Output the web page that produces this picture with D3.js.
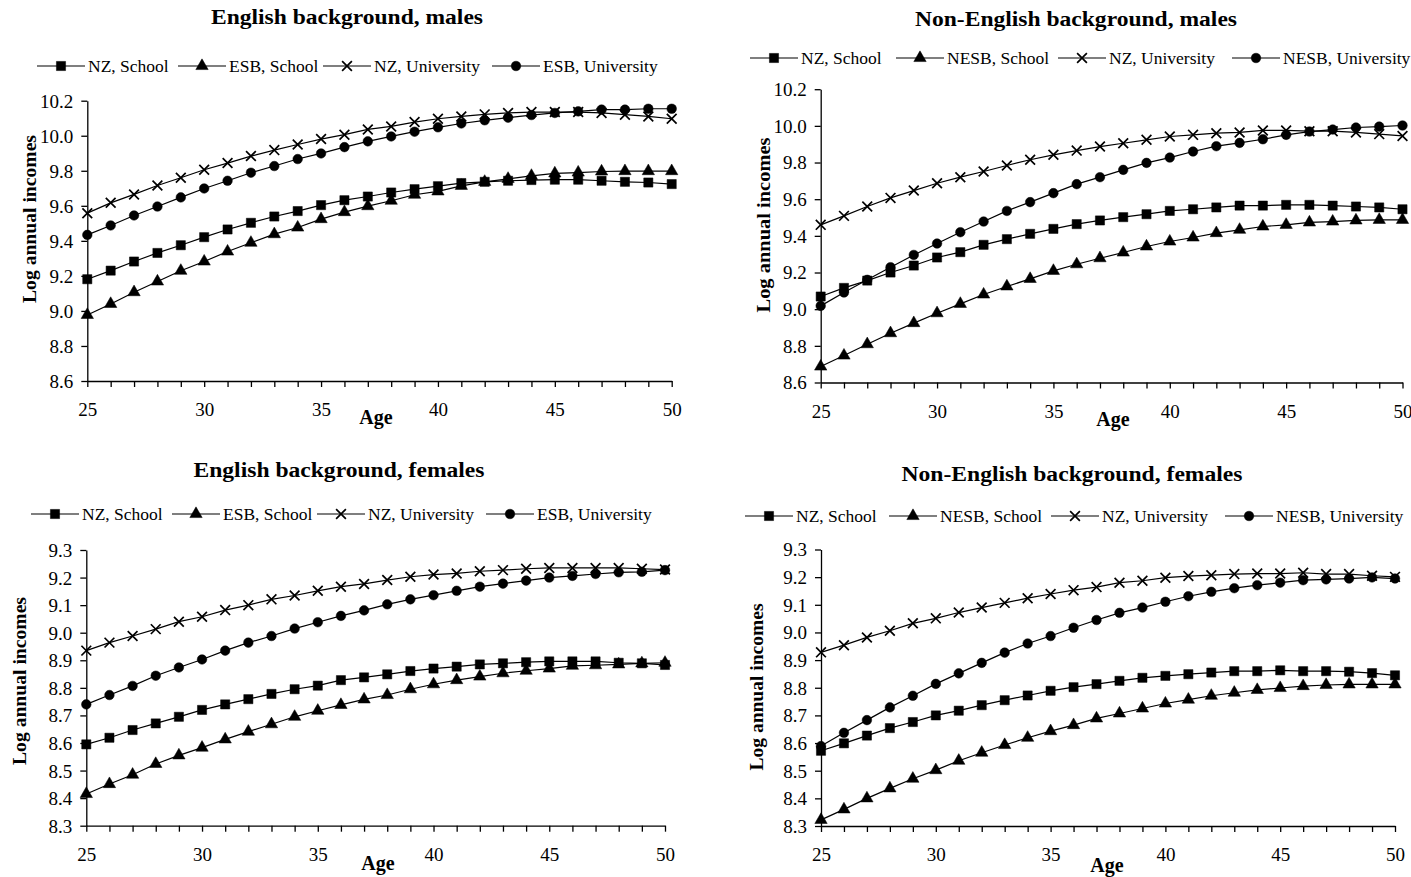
<!DOCTYPE html>
<html>
<head>
<meta charset="utf-8">
<script src="https://cdn.jsdelivr.net/npm/d3@7"></script>
<style>
  body { margin: 0; background: #fff; }
  svg { display: block; }
  text { font-family: "Liberation Serif", "Times New Roman", serif; fill: #000; }
</style>
</head>
<body>
<svg id="chart" width="1411" height="877"></svg>
<script>
// Age on the horizontal axis
const ages = [25, 26, 27, 28, 29, 30, 31, 32, 33, 34, 35, 36, 37, 38, 39, 40,
              41, 42, 43, 44, 45, 46, 47, 48, 49, 50];

// Panel titles and legend names
const titles = [
  "English background, males",
  "Non-English background, males",
  "English background, females",
  "Non-English background, females"
];
const namesESB  = ["NZ, School", "ESB, School", "NZ, University", "ESB, University"];
const namesNESB = ["NZ, School", "NESB, School", "NZ, University", "NESB, University"];

// Tick labels of the income axes
const ticksMales   = [8.6, 8.8, 9.0, 9.2, 9.4, 9.6, 9.8, 10.0, 10.2];
const ticksFemales = [8.3, 8.4, 8.5, 8.6, 8.7, 8.8, 8.9, 9.0, 9.1, 9.2, 9.3];

// English background, males
const esbMaleNZSchool  = [9.181, 9.230, 9.282, 9.331, 9.375, 9.421, 9.465, 9.503, 9.539, 9.570, 9.604, 9.632, 9.653,
                          9.676, 9.695, 9.712, 9.730, 9.737, 9.743, 9.747, 9.749, 9.749, 9.743, 9.737, 9.733, 9.724];
const esbMaleSchool    = [8.977, 9.040, 9.107, 9.168, 9.229, 9.282, 9.339, 9.389, 9.438, 9.476, 9.524, 9.564, 9.598,
                          9.629, 9.663, 9.682, 9.714, 9.737, 9.754, 9.771, 9.785, 9.790, 9.796, 9.798, 9.798, 9.798];
const esbMaleNZUni     = [9.558, 9.617, 9.665, 9.716, 9.760, 9.806, 9.844, 9.884, 9.918, 9.950, 9.981, 10.006, 10.036,
                          10.053, 10.078, 10.097, 10.110, 10.122, 10.130, 10.135, 10.135, 10.135, 10.130, 10.120, 10.110, 10.097];
const esbMaleUni       = [9.434, 9.488, 9.545, 9.596, 9.648, 9.699, 9.743, 9.789, 9.827, 9.867, 9.899, 9.935, 9.968,
                          9.996, 10.023, 10.048, 10.070, 10.088, 10.103, 10.118, 10.130, 10.139, 10.149, 10.149, 10.154, 10.154];

// Non-English background, males
const nesbMaleNZSchool = [9.069, 9.116, 9.156, 9.200, 9.238, 9.282, 9.311, 9.351, 9.382, 9.411, 9.438, 9.464, 9.484,
                          9.502, 9.518, 9.536, 9.545, 9.555, 9.565, 9.565, 9.569, 9.569, 9.565, 9.560, 9.555, 9.545];
const nesbMaleSchool   = [8.687, 8.747, 8.809, 8.869, 8.924, 8.978, 9.029, 9.080, 9.124, 9.165, 9.209, 9.245, 9.278,
                          9.309, 9.342, 9.369, 9.391, 9.415, 9.433, 9.451, 9.460, 9.473, 9.478, 9.484, 9.487, 9.487];
const nesbMaleNZUni    = [9.460, 9.509, 9.560, 9.607, 9.647, 9.687, 9.720, 9.751, 9.784, 9.815, 9.842, 9.865, 9.887,
                          9.905, 9.924, 9.942, 9.951, 9.960, 9.964, 9.975, 9.975, 9.971, 9.971, 9.964, 9.955, 9.945];
const nesbMaleUni      = [9.018, 9.091, 9.160, 9.229, 9.296, 9.358, 9.420, 9.478, 9.536, 9.584, 9.633, 9.682, 9.720,
                          9.760, 9.798, 9.827, 9.860, 9.889, 9.907, 9.927, 9.951, 9.969, 9.980, 9.991, 9.996, 10.002];

// English background, females
const esbFemNZSchool   = [8.595, 8.619, 8.647, 8.671, 8.695, 8.720, 8.740, 8.759, 8.778, 8.795, 8.808, 8.828, 8.838,
                          8.849, 8.861, 8.870, 8.877, 8.885, 8.889, 8.893, 8.896, 8.896, 8.896, 8.891, 8.889, 8.883];
const esbFemSchool     = [8.415, 8.451, 8.485, 8.524, 8.555, 8.583, 8.613, 8.641, 8.668, 8.695, 8.717, 8.738, 8.758,
                          8.774, 8.795, 8.813, 8.828, 8.841, 8.853, 8.862, 8.870, 8.880, 8.882, 8.885, 8.889, 8.891];
const esbFemNZUni      = [8.935, 8.964, 8.988, 9.013, 9.040, 9.058, 9.082, 9.100, 9.121, 9.135, 9.152, 9.167, 9.177,
                          9.191, 9.203, 9.211, 9.215, 9.223, 9.227, 9.232, 9.235, 9.235, 9.235, 9.235, 9.232, 9.229];
const esbFemUni        = [8.740, 8.774, 8.807, 8.844, 8.874, 8.903, 8.935, 8.964, 8.988, 9.015, 9.038, 9.061, 9.081,
                          9.103, 9.121, 9.136, 9.152, 9.167, 9.178, 9.189, 9.200, 9.206, 9.213, 9.219, 9.221, 9.227];

// Non-English background, females
const nesbFemNZSchool  = [8.572, 8.599, 8.627, 8.654, 8.676, 8.700, 8.717, 8.737, 8.755, 8.772, 8.789, 8.802, 8.813,
                          8.825, 8.836, 8.843, 8.849, 8.855, 8.860, 8.860, 8.863, 8.860, 8.860, 8.858, 8.853, 8.845];
const nesbFemSchool    = [8.322, 8.360, 8.400, 8.436, 8.471, 8.502, 8.536, 8.565, 8.593, 8.619, 8.643, 8.665, 8.689,
                          8.707, 8.725, 8.743, 8.757, 8.771, 8.782, 8.792, 8.799, 8.806, 8.810, 8.812, 8.812, 8.812];
const nesbFemNZUni     = [8.928, 8.954, 8.982, 9.006, 9.033, 9.051, 9.072, 9.090, 9.107, 9.124, 9.139, 9.153, 9.164,
                          9.180, 9.187, 9.198, 9.204, 9.207, 9.211, 9.213, 9.213, 9.216, 9.211, 9.211, 9.205, 9.201];
const nesbFemUni       = [8.589, 8.637, 8.683, 8.729, 8.771, 8.814, 8.852, 8.890, 8.927, 8.960, 8.987, 9.017, 9.045,
                          9.071, 9.090, 9.111, 9.131, 9.147, 9.160, 9.171, 9.180, 9.189, 9.192, 9.195, 9.199, 9.195];

// Marker shape for each of the four series (same order in every panel)
const markerShapes = [d3.symbolSquare, d3.symbolTriangle, d3.symbolTimes, d3.symbolCircle];
const markerSizes  = [84, 66, 64, 72];

// Panel layout: plot box, label anchors, text widths and legend item starts
const panels = [
  { title: titles[0], names: namesESB, series: [esbMaleNZSchool, esbMaleSchool, esbMaleNZUni, esbMaleUni],
    yTicks: ticksMales, left: 87.3, right: 671.7, top: 100.7, bottom: 381,
    titleX: 347, titleY: 24, titleW: 272, legendY: 66, legendX: [37, 178, 323, 492],
    yLabelX: 30, yLabelY: 219, yLabelW: 168, ageX: 376, ageY: 424 },
  { title: titles[1], names: namesNESB, series: [nesbMaleNZSchool, nesbMaleSchool, nesbMaleNZUni, nesbMaleUni],
    yTicks: ticksMales, left: 820.7, right: 1402.5, top: 89.2, bottom: 382.5,
    titleX: 1076, titleY: 26, titleW: 322, legendY: 58, legendX: [750, 896, 1058, 1232],
    yLabelX: 764, yLabelY: 225, yLabelW: 175, ageX: 1113, ageY: 426 },
  { title: titles[2], names: namesESB, series: [esbFemNZSchool, esbFemSchool, esbFemNZUni, esbFemUni],
    yTicks: ticksFemales, left: 86.3, right: 665, top: 550, bottom: 825.7,
    titleX: 339, titleY: 477, titleW: 291, legendY: 514, legendX: [31, 172, 317, 486],
    yLabelX: 20, yLabelY: 681, yLabelW: 168, ageX: 378, ageY: 870 },
  { title: titles[3], names: namesNESB, series: [nesbFemNZSchool, nesbFemSchool, nesbFemNZUni, nesbFemUni],
    yTicks: ticksFemales, left: 821, right: 1395, top: 549.5, bottom: 826,
    titleX: 1072, titleY: 481, titleW: 341, legendY: 516, legendX: [745, 889, 1051, 1225],
    yLabelX: 757, yLabelY: 687, yLabelW: 167, ageX: 1107, ageY: 872 }
];

const svg = d3.select("#chart");

panels.forEach(p => {
  const g = svg.append("g");
  const x = d3.scaleLinear().domain([ages[0], ages[ages.length - 1]]).range([p.left, p.right]);
  const y = d3.scaleLinear().domain([p.yTicks[0], p.yTicks[p.yTicks.length - 1]]).range([p.bottom, p.top]);

  // Title
  g.append("text")
    .attr("x", p.titleX).attr("y", p.titleY)
    .attr("text-anchor", "middle")
    .attr("textLength", p.titleW).attr("lengthAdjust", "spacingAndGlyphs")
    .style("font-size", "20px").style("font-weight", "bold")
    .text(p.title);

  // Legend
  p.names.forEach((name, i) => {
    const lx = p.legendX[i];
    const item = g.append("g").attr("transform", `translate(${lx},${p.legendY})`);
    item.append("line").attr("x1", 0).attr("x2", 48).attr("y1", 0).attr("y2", 0)
      .attr("stroke", "#000").attr("stroke-width", 1.2);
    item.append("path")
      .attr("transform", "translate(24,0)")
      .attr("d", d3.symbol(markerShapes[i], markerSizes[i])())
      .attr("fill", i === 2 ? "none" : "#000")
      .attr("stroke", "#000").attr("stroke-width", i === 2 ? 1.7 : 0.5);
    item.append("text").attr("x", 51).attr("y", 0).attr("dy", "0.33em")
      .style("font-size", "17.5px").text(name);
  });

  // Axes
  const xAxis = d3.axisBottom(x).tickValues(ages).tickSize(6).tickSizeOuter(0)
    .tickFormat(d => d % 5 === 0 ? d : "");
  const gx = g.append("g").attr("transform", `translate(0,${p.bottom})`).call(xAxis);
  gx.selectAll("text").attr("y", 35).attr("dy", 0).style("font-size", "19px");

  const yAxis = d3.axisLeft(y).tickValues(p.yTicks).tickSize(6).tickSizeOuter(0).tickPadding(8)
    .tickFormat(d3.format(".1f"));
  const gy = g.append("g").attr("transform", `translate(${p.left},0)`).call(yAxis);
  gy.selectAll("text").attr("dy", "0.34em").style("font-size", "19px");

  [gx, gy].forEach(a => {
    a.selectAll("path,line").attr("stroke", "#000").attr("stroke-width", 1.3);
    a.selectAll("text").attr("fill", "#000").style("font-family", "'Liberation Serif', serif");
  });

  // Axis titles
  g.append("text")
    .attr("transform", `translate(${p.yLabelX},${p.yLabelY}) rotate(-90)`)
    .attr("text-anchor", "middle").attr("dy", "0.33em")
    .attr("textLength", p.yLabelW).attr("lengthAdjust", "spacingAndGlyphs")
    .style("font-size", "19px").style("font-weight", "bold")
    .text("Log annual incomes");
  g.append("text")
    .attr("x", p.ageX).attr("y", p.ageY).attr("text-anchor", "middle")
    .style("font-size", "20px").style("font-weight", "bold")
    .text("Age");

  // Series lines and markers
  const line = d3.line().x((d, i) => x(ages[i])).y(d => y(d));
  p.series.forEach((vals, s) => {
    g.append("path").datum(vals).attr("d", line)
      .attr("fill", "none").attr("stroke", "#000").attr("stroke-width", 1.2);
    g.append("g").selectAll("path").data(vals).join("path")
      .attr("transform", (d, i) => `translate(${x(ages[i])},${y(d)})`)
      .attr("d", d3.symbol(markerShapes[s], markerSizes[s])())
      .attr("fill", s === 2 ? "none" : "#000")
      .attr("stroke", "#000").attr("stroke-width", s === 2 ? 1.7 : 0.5);
  });
});
</script>
</body>
</html>
